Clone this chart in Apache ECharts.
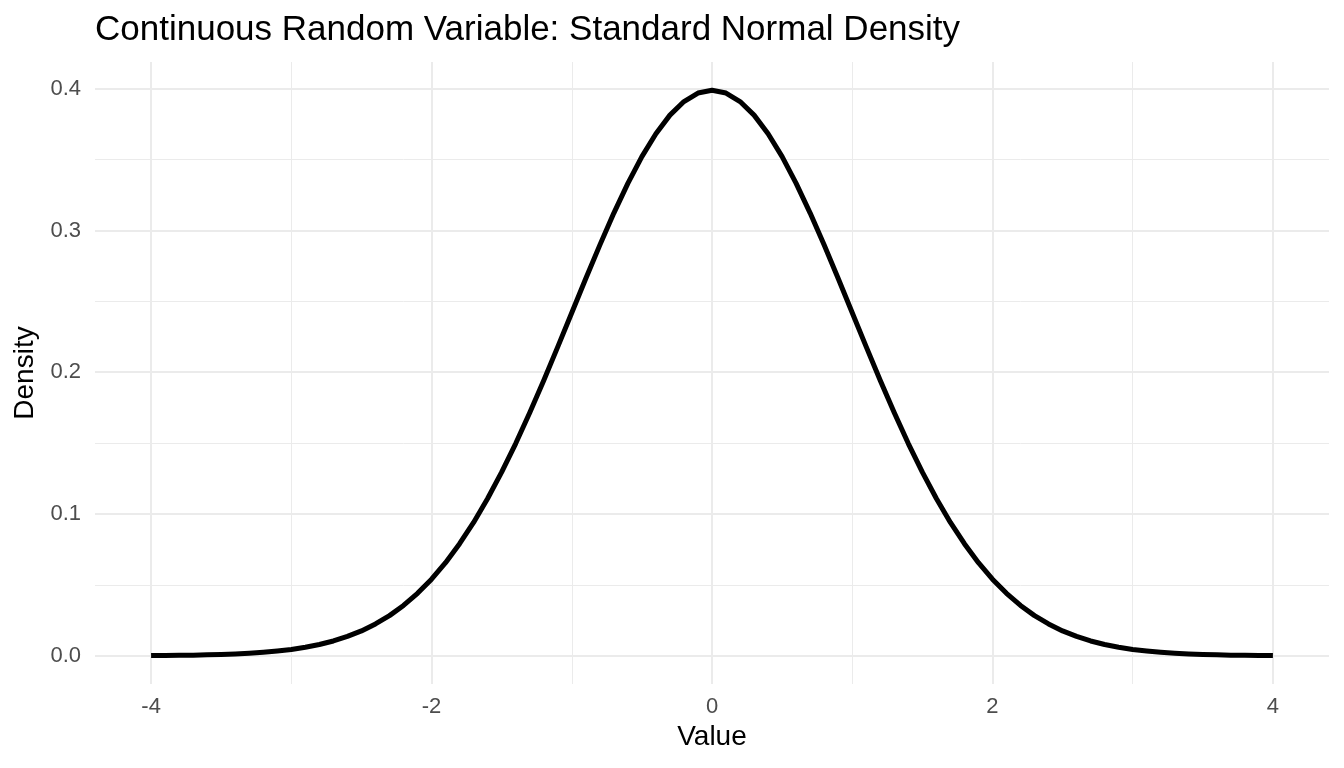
<!DOCTYPE html>
<html>
<head>
<meta charset="utf-8">
<script src="https://cdn.jsdelivr.net/npm/echarts@6/dist/echarts.min.js"></script>
<style>
html,body{margin:0;padding:0;background:#fff;}
#chart{width:1344px;height:768px;}
</style>
</head>
<body>
<div id="chart"></div>
<script>
// Values
const xValues = [
  -4.0, -3.9, -3.8, -3.7, -3.6, -3.5, -3.4, -3.3, -3.2, -3.1,
  -3.0, -2.9, -2.8, -2.7, -2.6, -2.5, -2.4, -2.3, -2.2, -2.1,
  -2.0, -1.9, -1.8, -1.7, -1.6, -1.5, -1.4, -1.3, -1.2, -1.1,
  -1.0, -0.9, -0.8, -0.7, -0.6, -0.5, -0.4, -0.3, -0.2, -0.1,
  0.0, 0.1, 0.2, 0.3, 0.4, 0.5, 0.6, 0.7, 0.8, 0.9,
  1.0, 1.1, 1.2, 1.3, 1.4, 1.5, 1.6, 1.7, 1.8, 1.9,
  2.0, 2.1, 2.2, 2.3, 2.4, 2.5, 2.6, 2.7, 2.8, 2.9,
  3.0, 3.1, 3.2, 3.3, 3.4, 3.5, 3.6, 3.7, 3.8, 3.9, 4.0
];
const densityValues = [
  0.0001, 0.0002, 0.0003, 0.0004, 0.0006, 0.0009, 0.0012, 0.0017, 0.0024, 0.0033,
  0.0044, 0.0060, 0.0079, 0.0104, 0.0136, 0.0175, 0.0224, 0.0283, 0.0355, 0.0440,
  0.0540, 0.0656, 0.0790, 0.0940, 0.1109, 0.1295, 0.1497, 0.1714, 0.1942, 0.2179,
  0.2420, 0.2661, 0.2897, 0.3123, 0.3332, 0.3521, 0.3683, 0.3814, 0.3910, 0.3970,
  0.3989, 0.3970, 0.3910, 0.3814, 0.3683, 0.3521, 0.3332, 0.3123, 0.2897, 0.2661,
  0.2420, 0.2179, 0.1942, 0.1714, 0.1497, 0.1295, 0.1109, 0.0940, 0.0790, 0.0656,
  0.0540, 0.0440, 0.0355, 0.0283, 0.0224, 0.0175, 0.0136, 0.0104, 0.0079, 0.0060,
  0.0044, 0.0033, 0.0024, 0.0017, 0.0012, 0.0009, 0.0006, 0.0004, 0.0003, 0.0002, 0.0001
];
const xTickLabels = [-4, -2, 0, 2, 4];
const xMinorGrid = [-3, -1, 1, 3];
const yTickLabels = [0, 0.1, 0.2, 0.3, 0.4];
const yMinorGrid = [0.05, 0.15, 0.25, 0.35];
const titleText = 'Continuous Random Variable: Standard Normal Density';
const xName = 'Value';
const yName = 'Density';

const FONT = "'Liberation Sans', Arial, Helvetica, sans-serif";
const xMin = -4.4, xMax = 4.4;
const yMin = -0.01995, yMax = 0.41888;

const majorStyle = {color: '#ebebeb', width: 2, type: 'solid'};
const minorStyle = {color: '#ebebeb', width: 1, type: 'solid'};
const gridLines = [];
xTickLabels.forEach(v => gridLines.push({xAxis: v, lineStyle: majorStyle}));
xMinorGrid.forEach(v => gridLines.push({xAxis: v, lineStyle: minorStyle}));
yTickLabels.forEach(v => gridLines.push({yAxis: v, lineStyle: majorStyle}));
yMinorGrid.forEach(v => gridLines.push({yAxis: v, lineStyle: minorStyle}));

const chart = echarts.init(document.getElementById('chart'), null, {renderer: 'canvas'});
chart.setOption({
  animation: false,
  backgroundColor: '#ffffff',
  title: {
    text: titleText,
    left: 90,
    top: 8,
    textStyle: {fontFamily: FONT, fontSize: 35, fontWeight: 'normal', color: '#000000'}
  },
  grid: {left: 95, right: 15, top: 62, bottom: 84, containLabel: false},
  xAxis: {
    type: 'value',
    min: xMin, max: xMax,
    name: xName,
    nameLocation: 'middle',
    nameGap: 38,
    nameTextStyle: {fontFamily: FONT, fontSize: 28, color: '#000000'},
    axisLine: {show: false},
    axisTick: {show: false},
    splitLine: {show: false},
    axisLabel: {
      customValues: xTickLabels,
      margin: 12,
      fontFamily: FONT, fontSize: 22, color: '#4d4d4d',
      formatter: v => String(Math.round(v))
    }
  },
  yAxis: {
    type: 'value',
    min: yMin, max: yMax,
    name: yName,
    nameLocation: 'middle',
    nameRotate: 90,
    nameGap: 56,
    nameTextStyle: {fontFamily: FONT, fontSize: 28, color: '#000000'},
    axisLine: {show: false},
    axisTick: {show: false},
    splitLine: {show: false},
    axisLabel: {
      customValues: yTickLabels,
      margin: 14,
      fontFamily: FONT, fontSize: 22, color: '#4d4d4d',
      formatter: v => Number(v).toFixed(1)
    }
  },
  series: [
    {
      type: 'line',
      z: 1,
      silent: true,
      data: xValues.map((x, i) => [x, densityValues[i]]),
      showSymbol: false,
      lineStyle: {opacity: 0},
      markLine: {
        z: 1,
        silent: true,
        symbol: ['none', 'none'],
        label: {show: false},
        emphasis: {disabled: true},
        animation: false,
        data: gridLines
      }
    },
    {
      type: 'line',
      z: 10,
      data: xValues.map((x, i) => [x, densityValues[i]]),
      smooth: false,
      showSymbol: false,
      lineStyle: {color: '#000000', width: 5, cap: 'butt', join: 'round'}
    }
  ]
});
</script>
</body>
</html>
